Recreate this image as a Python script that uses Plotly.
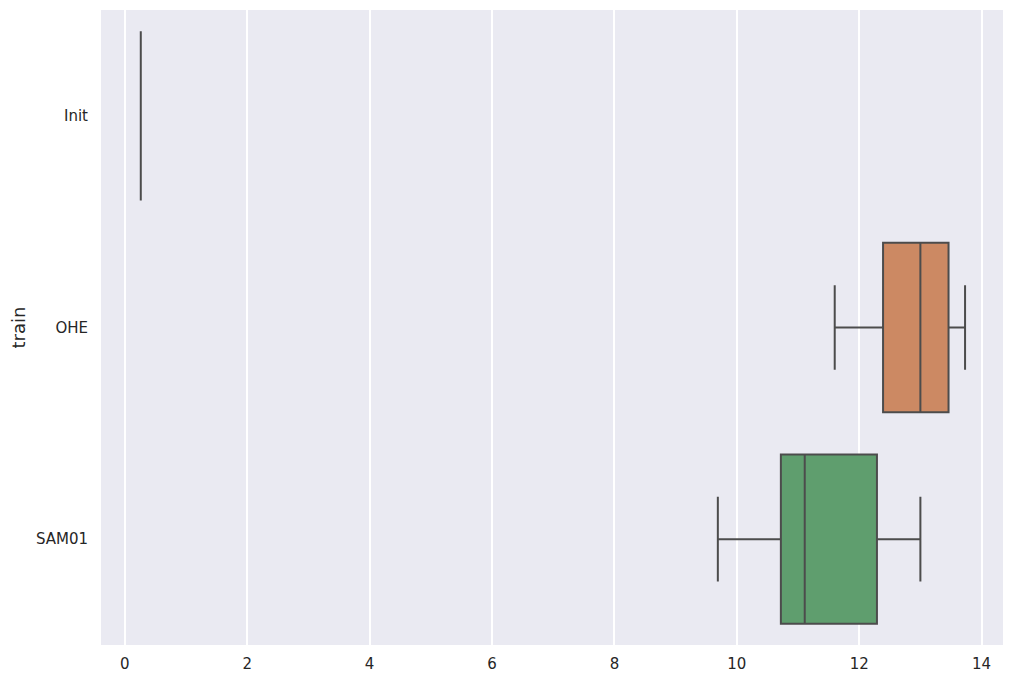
import plotly.graph_objects as go

# box statistics
categories = ["Init", "OHE", "SAM01"]
q1 = [0.26, 12.39, 10.72]
median = [0.26, 13.0, 11.11]
q3 = [0.26, 13.46, 12.29]
lower = [0.26, 11.6, 9.69]
upper = [0.26, 13.73, 13.0]
colors = ["#5975A4", "#CC8963", "#5F9E6E"]

fig = go.Figure()

for i, cat in enumerate(categories):
    fig.add_trace(
        go.Box(
            y=[cat],
            q1=[q1[i]],
            median=[median[i]],
            q3=[q3[i]],
            lowerfence=[lower[i]],
            upperfence=[upper[i]],
            orientation="h",
            fillcolor=colors[i],
            line={"color": "#4C4C4C", "width": 2},
            width=0.8,
            whiskerwidth=0.5,
            boxpoints=False,
            showlegend=False,
            hoverinfo="skip",
        )
    )

# page body has an 8px margin, so the figure is sized to compensate
fig.update_layout(
    width=1000,
    height=668,
    margin={"l": 93, "r": 5, "t": 2, "b": 31},
    paper_bgcolor="white",
    plot_bgcolor="#EAEAF2",
    font={"family": "DejaVu Sans", "size": 15, "color": "#262626"},
    xaxis={
        "range": [-0.39, 14.35],
        "tickvals": [0, 2, 4, 6, 8, 10, 12, 14],
        "showgrid": True,
        "gridcolor": "white",
        "gridwidth": 1.5,
        "zeroline": False,
        "showline": False,
        "ticks": "",
        "ticklabelstandoff": 8,
    },
    yaxis={
        "title": {"text": "train", "standoff": 12},
        "categoryorder": "array",
        "categoryarray": categories,
        "range": [2.5, -0.5],
        "autorange": False,
        "showgrid": False,
        "zeroline": False,
        "ticks": "",
        "ticklabelstandoff": 12,
    },
)

fig.write_html("out.html")
